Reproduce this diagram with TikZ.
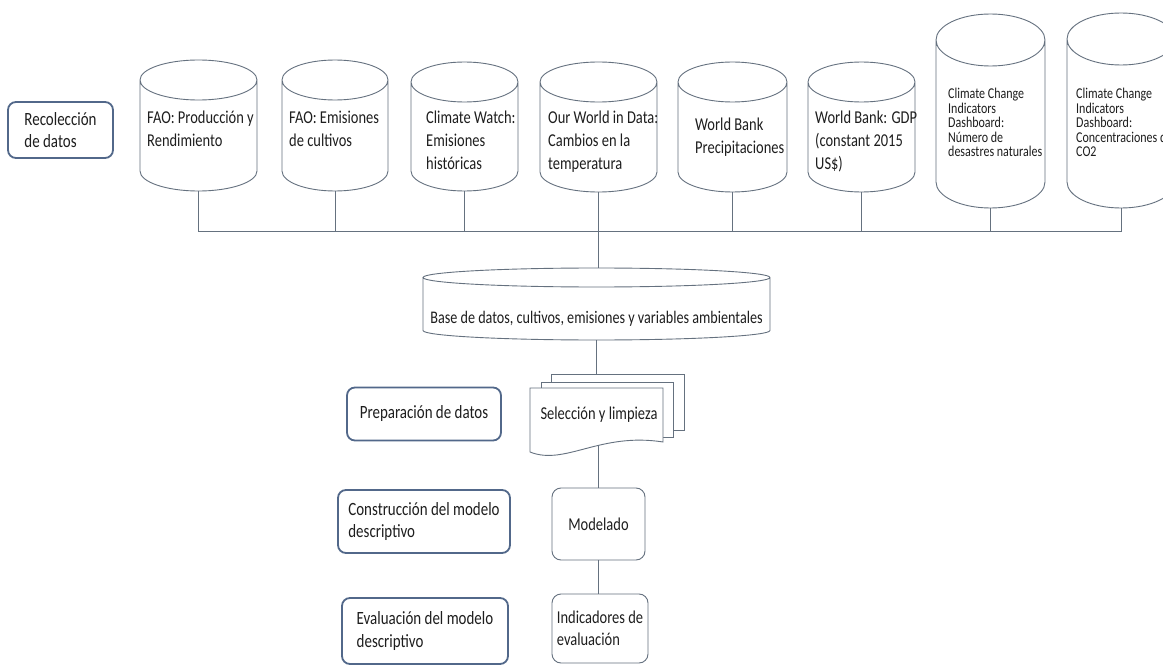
\documentclass[tikz,border=0pt]{standalone}
\usepackage{fontspec}
\setmainfont{Carlito}[FakeStretch=0.8]
\usetikzlibrary{calc}
\definecolor{ln}{HTML}{65717F}
\definecolor{lab}{HTML}{52688A}
\definecolor{tx}{HTML}{1E1E1E}
\tikzset{
  cyl/.style={draw=ln, line width=0.9pt},
  cylarea/.style={inner sep=0pt, outer sep=0pt, rectangle},
  ctext/.style={inner sep=0pt, anchor=base west, align=left, text=tx, font=\fontsize{18.1}{23.5}\selectfont},
  stext/.style={ctext, font=\fontsize{15}{14.5}\selectfont},
  labelbox/.style={draw=lab, line width=1.8pt, rounded corners=8pt, align=left, text=tx, font=\fontsize{18.7}{22.5}\selectfont, inner sep=0pt},
  procbox/.style={draw=ln, line width=0.9pt, rounded corners=9pt, align=left, text=tx, font=\fontsize{18.1}{22}\selectfont, inner sep=0pt},
  doc/.style={draw=ln, line width=0.9pt, fill=white},
  conn/.style={draw=ln, line width=0.9pt},
}
% name, cx, top, bottom, half width, ellipse y radius
\newcommand\dbcyl[6]{%
  \node[cylarea, minimum width={2*#5}, minimum height={#4-#3}] (#1) at (#2,{-(#3+#4)/2}) {};
  \draw[cyl] ({#2-#5},{-#3-#6}) -- ({#2-#5},{-#4+#6})
     arc[start angle=180, end angle=360, x radius=#5, y radius=#6]
     -- ({#2+#5},{-#3-#6})
     arc[start angle=0, end angle=360, x radius=#5, y radius=#6];
}
\begin{document}
\begin{tikzpicture}[x=1pt, y=1pt]
\useasboundingbox (0,0) rectangle (1163,-666);
\fill[white] (0,0) rectangle (1163,-666);

% left stage labels
\node[labelbox, minimum width=105, minimum height=56] (rec) at (60.5,-130) {Recolección\\de datos};
\node[labelbox, minimum width=154, minimum height=53] (prep) at (424,-414) {Preparación de datos};
\node[labelbox, minimum width=172, minimum height=63] (cons) at (424,-521.5) {Construcción del modelo\\descriptivo};
\node[labelbox, minimum width=166, minimum height=66] (eval) at (425,-631) {Evaluación del modelo\\descriptivo};

% source cylinders
\dbcyl{c1}{198.5}{60}{191}{58.5}{20}
\dbcyl{c2}{335}{60}{191}{53}{20}
\dbcyl{c3}{464.5}{62}{191}{53.5}{20}
\dbcyl{c4}{598.5}{62}{192}{58.5}{20}
\dbcyl{c5}{732.5}{62}{192}{54.5}{20}
\dbcyl{c6}{861.5}{62}{192}{53.5}{20}
\dbcyl{c7}{990.5}{14}{208}{54.5}{26}
\dbcyl{c8}{1121}{13}{208}{54}{26}

% texts: anchor is the baseline of the last line
\node[ctext] (t1) at (147,-146.5) {FAO: Producción y\\Rendimiento};
\node[ctext] (t2) at (289,-146.5) {FAO: Emisiones\\de cultivos};
\node[ctext] (t3) at (426,-170) {Climate Watch:\\Emisiones\\históricas};
\node[ctext] (t4) at (548,-170) {Our World in Data:\\Cambios en la\\temperatura};
\node[ctext] (t5) at (695,-153.5) {World Bank\\Precipitaciones};
\node[ctext] (t6) at (815,-170) {World Bank: GDP\\(constant 2015\\US\$)};
\node[stext] (t7) at (948,-157) {Climate Change\\Indicators\\Dashboard:\\Número de\\desastres naturales};
\node[stext] (t8) at (1076,-157) {Climate Change\\Indicators\\Dashboard:\\Concentraciones de\\CO2};

% bus
\coordinate (bus) at (0,-231);
\draw[conn] (c1.south) |- (c8.south |- bus) -- (c8.south);
\foreach \n in {c2,c3,c5,c6,c7} \draw[conn] (\n.south) -- (\n.south |- bus);

% central database
\dbcyl{base}{596.5}{268}{340}{173.5}{9.5}
\node[inner sep=0pt, text=tx, font=\fontsize{17.7}{20}\selectfont] (baset) at (596.5,-319) {Base de datos, cultivos, emisiones y variables ambientales};
\draw[conn] (c4.south) -- (c4.south |- base.north);

% document stack
\node[cylarea, minimum width=154, minimum height=72] (sel) at (607,-410) {};
\draw[doc] (551,-374) rectangle (684,-430);
\draw[doc] (541,-382) rectangle (673,-437);
\draw[doc] (530,-452) -- (530,-388) -- (663,-388) -- (663,-442)
   .. controls (600,-432) and (565,-466) .. (530,-452) -- cycle;
\node[inner sep=0pt, text=tx, font=\fontsize{18.1}{20}\selectfont] (selt) at (599,-415) {Selección y limpieza};
\coordinate (selb) at (598.5,-446);
\draw[conn] (base.south) -- (base.south |- sel.north);

% process boxes
\node[procbox, minimum width=93, minimum height=72] (mod) at (598.5,-524) {Modelado};
\node[procbox, minimum width=96, minimum height=69] (ind) at (600,-628.5) {Indicadores de\\evaluación};
\draw[conn] (selb) -- (selb |- mod.north);
\draw[conn] (mod.south) -- (mod.south |- ind.north);
\end{tikzpicture}
\end{document}
